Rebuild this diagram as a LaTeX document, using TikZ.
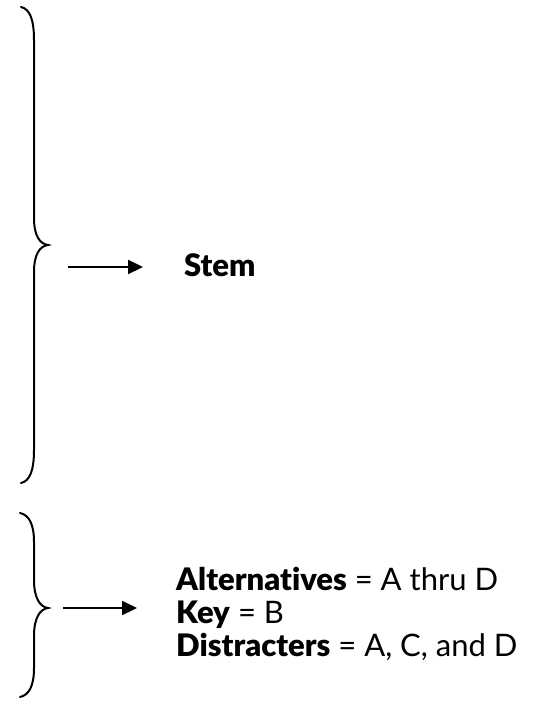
\documentclass[tikz,border=0pt]{standalone}
\usepackage{fontspec}
\setmainfont{Lato}[Ligatures=NoCommon, BoldFont={Lato Black}]
\usetikzlibrary{arrows.meta}
\tikzset{
  brace/.style={line width=2pt, line cap=round},
  pointer/.style={line width=2.2pt, -{Triangle[length=15pt,width=14pt]}},
  label/.style={anchor=base west, inner sep=0pt, font=\fontsize{31}{33}\selectfont}
}
\begin{document}
\begin{tikzpicture}[x=1pt,y=-1pt]
\useasboundingbox (0,0) rectangle (543,701);
% brace 1
\draw[brace] (21,7) .. controls (30,9) and (34,20) .. (34,40) -- (34,218)
  .. controls (34,236) and (40,244) .. (48,245)
  .. controls (40,246) and (34,254) .. (34,272) -- (34,450)
  .. controls (34,470) and (30,481) .. (21,483);
% brace 2
\draw[brace] (20,513) .. controls (29,515) and (34,524) .. (34,542) -- (34,580)
  .. controls (34,598) and (40,607) .. (48,608)
  .. controls (40,609) and (34,618) .. (34,636) -- (34,668)
  .. controls (34,686) and (29,695) .. (20,697);
\coordinate (a1s) at (68,267);
\coordinate (a1e) at (143,267);
\coordinate (a2s) at (63,608);
\coordinate (a2e) at (137,608);
\draw[pointer] (a1s) -- (a1e);
\draw[pointer] (a2s) -- (a2e);
\node[label] (stem) at (184,276) {\bfseries Stem};
\node[label] (alt) at (176,590) {\textbf{Alternatives} = A thru D};
\node[label] (key) at (176,623) {\textbf{Key} = B};
\node[label] (dis) at (176,656) {\textbf{Distracters} = A, C, and D};
\end{tikzpicture}
\end{document}
